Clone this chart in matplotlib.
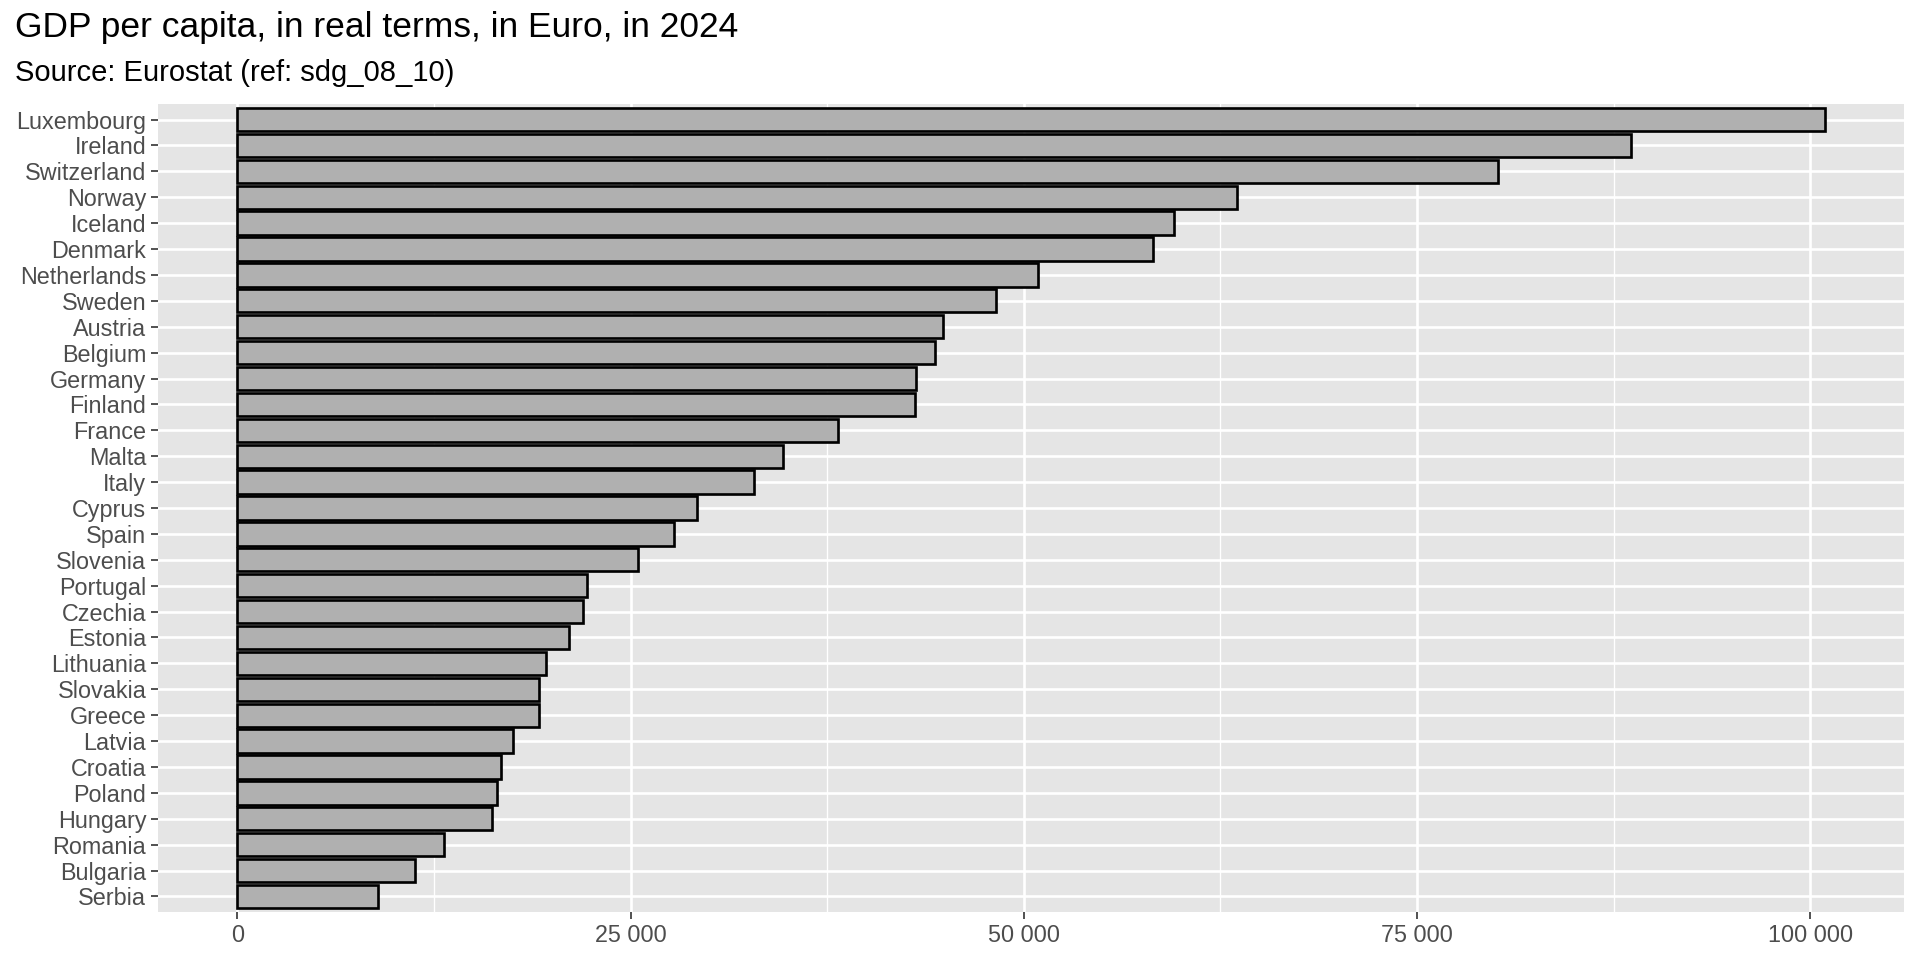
import numpy as np
import matplotlib
matplotlib.use("Agg")
import matplotlib.pyplot as plt
from matplotlib.ticker import FixedLocator, FuncFormatter

# GDP per capita (real terms, EUR), 2024, sorted high to low
countries = [
    "Luxembourg", "Ireland", "Switzerland", "Norway", "Iceland", "Denmark",
    "Netherlands", "Sweden", "Austria", "Belgium", "Germany", "Finland",
    "France", "Malta", "Italy", "Cyprus", "Spain", "Slovenia", "Portugal",
    "Czechia", "Estonia", "Lithuania", "Slovakia", "Greece", "Latvia",
    "Croatia", "Poland", "Hungary", "Romania", "Bulgaria", "Serbia",
]
gdp = [
    100910, 88630, 80120, 63530, 59550, 58220,
    50930, 48260, 44870, 44340, 43130, 43090,
    38160, 34680, 32840, 29210, 27750, 25490, 22240,
    21950, 21080, 19600, 19150, 19160, 17540,
    16740, 16480, 16200, 13160, 11310, 8920,
]
major_ticks = [0, 25000, 50000, 75000, 100000]
minor_ticks = [12500, 37500, 62500, 87500]

plt.rcParams["font.family"] = ["Liberation Sans", "DejaVu Sans"]

fig = plt.figure(figsize=(16, 8), dpi=120)
ax = fig.add_axes([158 / 1920, 1 - 912 / 960, (1904 - 158) / 1920, (912 - 104) / 960])
ax.set_facecolor("#E5E5E5")

n = len(countries)
ypos = np.arange(n)
ax.barh(ypos, gdp, height=0.9, color="#B0B0B0", edgecolor="black",
        linewidth=1.6, zorder=3)

# ggplot-style expansion
xmax = max(gdp)
ax.set_xlim(-0.05 * xmax, 1.05 * xmax)
ax.set_ylim(n - 1 + 0.6, -0.6)

ax.xaxis.set_major_locator(FixedLocator(major_ticks))
ax.xaxis.set_minor_locator(FixedLocator(minor_ticks))
ax.xaxis.set_major_formatter(FuncFormatter(lambda v, p: f"{int(v):,}".replace(",", " ")))
ax.set_yticks(ypos)
ax.set_yticklabels(countries)

ax.grid(which="major", color="white", linewidth=1.6, zorder=1)
ax.grid(which="minor", axis="x", color="white", linewidth=0.8, zorder=1)
ax.set_axisbelow(True)

for s in ax.spines.values():
    s.set_visible(False)

ax.tick_params(axis="both", which="major", length=4, width=1.0, color="#333333",
               labelsize=14, labelcolor="#4D4D4D", pad=3)
ax.tick_params(axis="x", which="minor", length=0)

fig.text(15 / 1920, 1 - 37 / 960, "GDP per capita, in real terms, in Euro, in 2024",
         fontsize=21.2, va="baseline", ha="left", color="black")
fig.text(15 / 1920, 1 - 81 / 960, "Source: Eurostat (ref: sdg_08_10)",
         fontsize=17.5, va="baseline", ha="left", color="black")

fig.savefig("out.png", dpi=120, facecolor="white")
